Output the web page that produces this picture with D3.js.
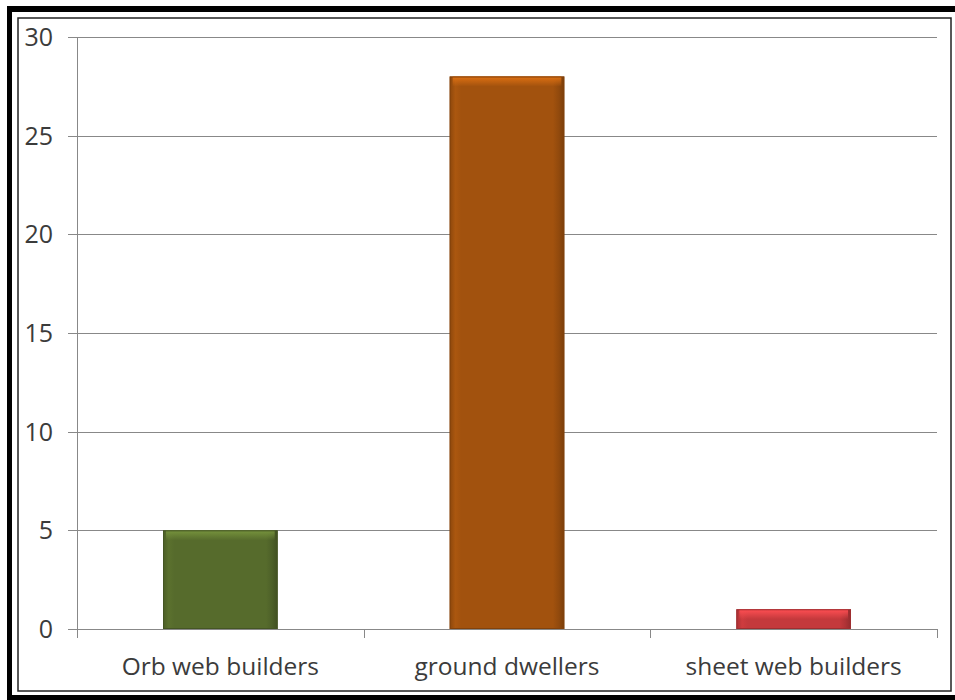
<!DOCTYPE html>
<html><head><meta charset="utf-8">
<script src="https://cdn.jsdelivr.net/npm/d3@7"></script>
<style>html,body{margin:0;padding:0;background:#fff;}svg{display:block;}</style>
</head><body>
<svg id="chart" width="955" height="700"></svg>
<script>
const categories = ["Orb web builders", "ground dwellers", "sheet web builders"];
const values = [5, 28, 1];
const barColors = ["#566b2c", "#a2520e", "#c4393c"];
const yTicks = [0, 5, 10, 15, 20, 25, 30];

const svg = d3.select("#chart");
const W = 955, H = 700;
const m = {left: 77, right: 937, top: 37, bottom: 629};

// frame
svg.append("rect").attr("x", 7).attr("y", 6).attr("width", 5).attr("height", H - 6).attr("fill", "#000");
svg.append("rect").attr("x", 7).attr("y", 6).attr("width", W - 7).attr("height", 6).attr("fill", "#000");
svg.append("rect").attr("x", 7).attr("y", 695).attr("width", W - 7).attr("height", 5).attr("fill", "#000");
svg.append("rect").attr("x", 18).attr("y", 18).attr("width", 933).attr("height", 673)
  .attr("fill", "none").attr("stroke", "#222").attr("stroke-width", 1.5);

const x = d3.scaleBand().domain(categories).range([m.left, m.right]).paddingInner(0.6).paddingOuter(0.3);
const y = d3.scaleLinear().domain([0, 30]).range([m.bottom, m.top]);

const defs = svg.append("defs");
barColors.forEach((c, i) => {
  const base = d3.color(c);
  const g = defs.append("linearGradient").attr("id", "h" + i).attr("x1", 0).attr("x2", 1).attr("y1", 0).attr("y2", 0);
  g.append("stop").attr("offset", "0%").attr("stop-color", base.darker(0.4));
  g.append("stop").attr("offset", "5%").attr("stop-color", base.brighter(0.15));
  g.append("stop").attr("offset", "10%").attr("stop-color", base);
  g.append("stop").attr("offset", "90%").attr("stop-color", base);
  g.append("stop").attr("offset", "95%").attr("stop-color", base.darker(0.3));
  g.append("stop").attr("offset", "100%").attr("stop-color", base.darker(0.8));
  const v = defs.append("linearGradient").attr("id", "v" + i).attr("x1", 0).attr("x2", 0)
    .attr("gradientUnits", "userSpaceOnUse");
  const top = y(values[i]);
  v.attr("y1", top).attr("y2", top + 10);
  v.append("stop").attr("offset", "0%").attr("stop-color", base.brighter(0.9)).attr("stop-opacity", 1);
  v.append("stop").attr("offset", "100%").attr("stop-color", base.brighter(0.9)).attr("stop-opacity", 0);
});

// gridlines
svg.append("g").selectAll("line").data(yTicks).join("line")
  .attr("x1", m.left - 9).attr("x2", m.right)
  .attr("y1", d => Math.round(y(d)) + 0.5).attr("y2", d => Math.round(y(d)) + 0.5)
  .attr("stroke", "#888").attr("stroke-width", 1);

// y axis line
svg.append("line").attr("x1", m.left + 0.5).attr("x2", m.left + 0.5).attr("y1", m.top).attr("y2", m.bottom + 9)
  .attr("stroke", "#888");
// category ticks
const catTicks = categories.map((c, i) => m.left + (m.right - m.left) * (i + 1) / categories.length);
svg.append("g").selectAll("line").data(catTicks).join("line")
  .attr("x1", d => Math.round(d) + 0.5).attr("x2", d => Math.round(d) + 0.5)
  .attr("y1", m.bottom).attr("y2", m.bottom + 9).attr("stroke", "#888");

// y labels
svg.append("g").selectAll("text").data(yTicks).join("text")
  .attr("x", 53).attr("y", d => y(d)).attr("dy", "0.36em").attr("text-anchor", "end")
  .attr("font-family", "Open Sans").attr("font-size", 25).attr("fill", "#3b3b3b").text(d => d);

// bars
const bars = svg.append("g");
categories.forEach((c, i) => {
  const bx = x(c), bw = x.bandwidth(), by = y(values[i]), bh = y(0) - y(values[i]);
  bars.append("rect").attr("x", bx).attr("y", by).attr("width", bw).attr("height", bh)
    .attr("fill", `url(#h${i})`);
  bars.append("rect").attr("x", bx + 3).attr("y", by).attr("width", bw - 6).attr("height", Math.min(10, bh))
    .attr("fill", `url(#v${i})`);
  bars.append("rect").attr("x", bx + 0.5).attr("y", by + 0.5).attr("width", bw - 1).attr("height", bh - 1)
    .attr("fill", "none").attr("stroke", d3.color(barColors[i]).darker(0.6)).attr("stroke-width", 1);
});

// category labels
svg.append("g").selectAll("text").data(categories).join("text")
  .attr("x", d => x(d) + x.bandwidth() / 2).attr("y", 675).attr("text-anchor", "middle")
  .attr("font-family", "Open Sans").attr("font-size", 24.5).attr("fill", "#3b3b3b").text(d => d);
</script>
</body></html>
